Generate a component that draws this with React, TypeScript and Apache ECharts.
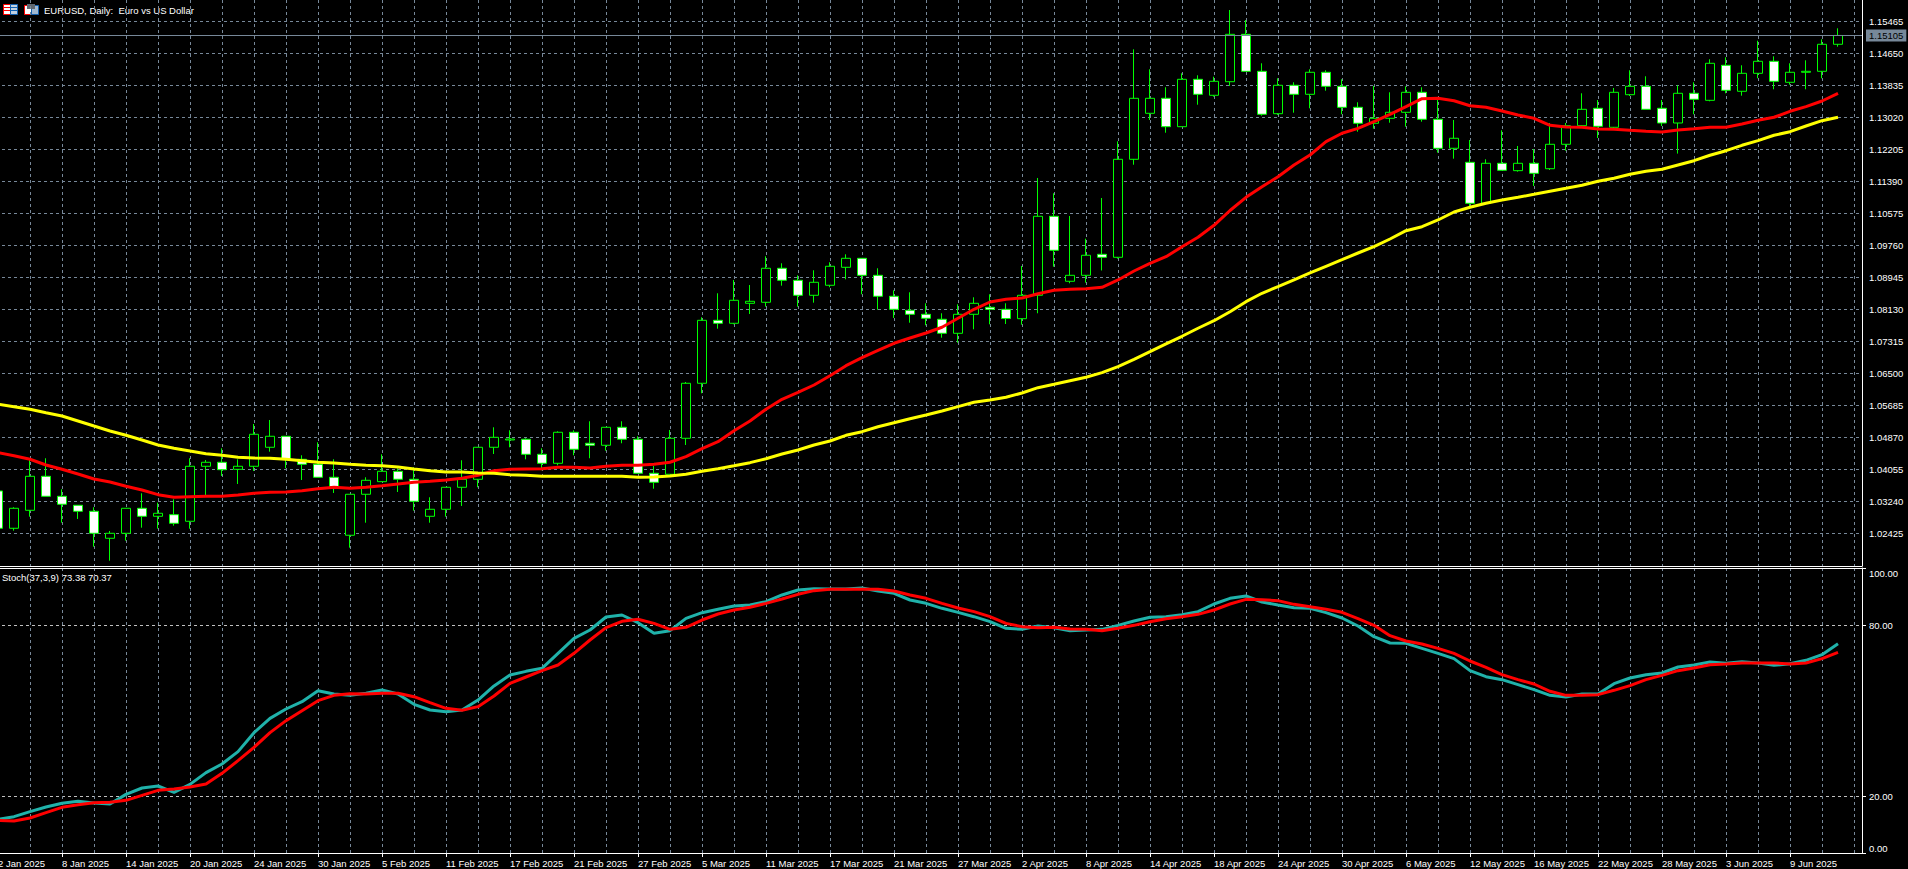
import { useEffect, useRef } from 'react'
import * as echarts from 'echarts'

const dates = [
  '2 Jan 2025', '3 Jan 2025', '6 Jan 2025', '7 Jan 2025', '8 Jan 2025', '9 Jan 2025', '10 Jan 2025', '13 Jan 2025',
  '14 Jan 2025', '15 Jan 2025', '16 Jan 2025', '17 Jan 2025', '20 Jan 2025', '21 Jan 2025', '22 Jan 2025', '23 Jan 2025',
  '24 Jan 2025', '27 Jan 2025', '28 Jan 2025', '29 Jan 2025', '30 Jan 2025', '31 Jan 2025', '3 Feb 2025', '4 Feb 2025',
  '5 Feb 2025', '6 Feb 2025', '7 Feb 2025', '10 Feb 2025', '11 Feb 2025', '12 Feb 2025', '13 Feb 2025', '14 Feb 2025',
  '17 Feb 2025', '18 Feb 2025', '19 Feb 2025', '20 Feb 2025', '21 Feb 2025', '24 Feb 2025', '25 Feb 2025', '26 Feb 2025',
  '27 Feb 2025', '28 Feb 2025', '3 Mar 2025', '4 Mar 2025', '5 Mar 2025', '6 Mar 2025', '7 Mar 2025', '10 Mar 2025',
  '11 Mar 2025', '12 Mar 2025', '13 Mar 2025', '14 Mar 2025', '17 Mar 2025', '18 Mar 2025', '19 Mar 2025', '20 Mar 2025',
  '21 Mar 2025', '24 Mar 2025', '25 Mar 2025', '26 Mar 2025', '27 Mar 2025', '28 Mar 2025', '31 Mar 2025', '1 Apr 2025',
  '2 Apr 2025', '3 Apr 2025', '4 Apr 2025', '7 Apr 2025', '8 Apr 2025', '9 Apr 2025', '10 Apr 2025', '11 Apr 2025',
  '14 Apr 2025', '15 Apr 2025', '16 Apr 2025', '17 Apr 2025', '18 Apr 2025', '21 Apr 2025', '22 Apr 2025', '23 Apr 2025',
  '24 Apr 2025', '25 Apr 2025', '28 Apr 2025', '29 Apr 2025', '30 Apr 2025', '1 May 2025', '2 May 2025', '5 May 2025',
  '6 May 2025', '7 May 2025', '8 May 2025', '9 May 2025', '12 May 2025', '13 May 2025', '14 May 2025', '15 May 2025',
  '16 May 2025', '19 May 2025', '20 May 2025', '21 May 2025', '22 May 2025', '23 May 2025', '26 May 2025', '27 May 2025',
  '28 May 2025', '29 May 2025', '30 May 2025', '2 Jun 2025', '3 Jun 2025', '4 Jun 2025', '5 Jun 2025', '6 Jun 2025',
  '9 Jun 2025', '10 Jun 2025', '11 Jun 2025', '12 Jun 2025', '',
]

const opens = [
  1.03503, 1.02553, 1.03011, 1.03877, 1.03368, 1.03139, 1.02986, 1.02298, 1.02425, 1.03062, 1.02858, 1.02899,
  1.02731, 1.04132, 1.04234, 1.04055, 1.04132, 1.04616, 1.04896, 1.0431, 1.04183, 1.03852, 1.02375, 1.03419,
  1.0374, 1.04004, 1.03801, 1.02858, 1.03037, 1.03597, 1.03801, 1.04616, 1.04802, 1.0482, 1.04437, 1.04208,
  1.04998, 1.04718, 1.04667, 1.05125, 1.0482, 1.03954, 1.03928, 1.04845, 1.06246, 1.0785, 1.07774, 1.08283,
  1.08309, 1.09175, 1.08869, 1.08487, 1.08742, 1.092, 1.09429, 1.08996, 1.08462, 1.08105, 1.08003, 1.07876,
  1.07519, 1.08003, 1.08181, 1.0813, 1.07891, 1.08487, 1.10499, 1.08844, 1.08996, 1.09531, 1.09455, 1.11951,
  1.13122, 1.13504, 1.12781, 1.13988, 1.13581, 1.13927, 1.15134, 1.14192, 1.13112, 1.13836, 1.13606, 1.14167,
  1.1381, 1.13275, 1.12868, 1.12995, 1.13148, 1.13657, 1.1297, 1.12231, 1.11874, 1.1083, 1.11849, 1.11661,
  1.11849, 1.11711, 1.12333, 1.12807, 1.1325, 1.12766, 1.13596, 1.1381, 1.1325, 1.12875, 1.13632, 1.13453,
  1.14345, 1.13683, 1.14141, 1.14447, 1.13912, 1.14167, 1.14192, 1.1488,
]
const closes = [
  1.02553, 1.03062, 1.03877, 1.03368, 1.03164, 1.02986, 1.02425, 1.02425, 1.03062, 1.02858, 1.02935, 1.0268,
  1.04132, 1.04234, 1.04045, 1.04132, 1.04947, 1.04896, 1.0431, 1.04183, 1.03852, 1.03597, 1.03419, 1.03775,
  1.04004, 1.03801, 1.0324, 1.03037, 1.03597, 1.03801, 1.04616, 1.0487, 1.04827, 1.04437, 1.04208, 1.04998,
  1.04565, 1.04667, 1.05125, 1.0482, 1.03954, 1.03724, 1.04845, 1.06246, 1.0785, 1.07774, 1.0836, 1.08334,
  1.09175, 1.08869, 1.08487, 1.08818, 1.09226, 1.09429, 1.08996, 1.08462, 1.0813, 1.08003, 1.07901, 1.07519,
  1.08003, 1.08283, 1.0813, 1.07896, 1.08487, 1.10499, 1.09633, 1.08996, 1.09506, 1.09455, 1.11951, 1.13504,
  1.13504, 1.12781, 1.13988, 1.13606, 1.13937, 1.15134, 1.14192, 1.13097, 1.13836, 1.13606, 1.14167, 1.1381,
  1.13275, 1.12868, 1.12995, 1.13148, 1.13657, 1.1297, 1.12231, 1.12486, 1.1083, 1.11849, 1.11671, 1.11849,
  1.11594, 1.12333, 1.12807, 1.13224, 1.12791, 1.13657, 1.1381, 1.13224, 1.12875, 1.13632, 1.13479, 1.14396,
  1.13708, 1.14141, 1.14447, 1.13937, 1.14167, 1.14192, 1.1488, 1.15105,
]
const lows = [
  1.02466, 1.02492, 1.02848, 1.03368, 1.02695, 1.0279, 1.02084, 1.01728, 1.02237, 1.02568, 1.02543, 1.02619,
  1.02543, 1.03401, 1.03885, 1.03681, 1.04012, 1.04504, 1.04081, 1.03783, 1.03852, 1.03452, 1.02059, 1.02695,
  1.0374, 1.03477, 1.03001, 1.02695, 1.02848, 1.03121, 1.03597, 1.04445, 1.04616, 1.0431, 1.0403, 1.04157,
  1.04412, 1.04336, 1.04529, 1.04718, 1.03954, 1.03561, 1.03928, 1.04674, 1.05991, 1.07636, 1.07748, 1.08011,
  1.08197, 1.08732, 1.08197, 1.08299, 1.08691, 1.08894, 1.08513, 1.0812, 1.07909, 1.07789, 1.07723, 1.07407,
  1.0728, 1.07621, 1.07748, 1.07756, 1.07738, 1.08029, 1.09215, 1.08793, 1.08808, 1.09119, 1.09419, 1.11813,
  1.12952, 1.12628, 1.12781, 1.13341, 1.13545, 1.13818, 1.14192, 1.13061, 1.13079, 1.13138, 1.1325, 1.13698,
  1.13097, 1.12654, 1.1273, 1.12883, 1.12781, 1.12909, 1.12121, 1.11966, 1.10744, 1.10812, 1.1166, 1.11635,
  1.11271, 1.11678, 1.1217, 1.12799, 1.12493, 1.12748, 1.13563, 1.13224, 1.12799, 1.12096, 1.13097, 1.13428,
  1.13632, 1.13571, 1.14014, 1.13734, 1.13851, 1.13734, 1.14014, 1.14819,
]
const highs = [
  1.03612, 1.03088, 1.04336, 1.04336, 1.03546, 1.03139, 1.03088, 1.02484, 1.03062, 1.03444, 1.03205, 1.03291,
  1.04336, 1.04292, 1.0459, 1.0431, 1.05209, 1.05311, 1.04896, 1.04412, 1.04743, 1.0431, 1.03419, 1.03852,
  1.04437, 1.04081, 1.04106, 1.03342, 1.03597, 1.04285, 1.04616, 1.05125, 1.05049, 1.04845, 1.0459, 1.05023,
  1.05049, 1.05278, 1.05125, 1.05278, 1.04898, 1.04139, 1.05056, 1.06279, 1.07927, 1.08538, 1.08877, 1.08749,
  1.0948, 1.09302, 1.08996, 1.09124, 1.09328, 1.09531, 1.09429, 1.09175, 1.08614, 1.08563, 1.08283, 1.08029,
  1.08258, 1.08436, 1.08513, 1.08283, 1.09233, 1.11475, 1.11085, 1.10507, 1.09929, 1.10965, 1.12409, 1.14752,
  1.14243, 1.13785, 1.14141, 1.1409, 1.14055, 1.15753, 1.15499, 1.14396, 1.14014, 1.13912, 1.14243, 1.14218,
  1.13988, 1.13403, 1.13818, 1.13657, 1.1381, 1.13785, 1.13512, 1.12952, 1.12442, 1.11951, 1.12689, 1.1229,
  1.12213, 1.12875, 1.12875, 1.13632, 1.13461, 1.13767, 1.14218, 1.14065, 1.13461, 1.13836, 1.13912, 1.14498,
  1.14549, 1.14345, 1.14971, 1.14574, 1.14396, 1.14472, 1.15007, 1.15287,
]

const fastMa = [
  1.04478, 1.04402, 1.0431, 1.04165, 1.04055, 1.03936, 1.03808, 1.03732, 1.03622, 1.03528, 1.03409, 1.03342,
  1.03358, 1.03368, 1.03368, 1.03401, 1.03444, 1.0347, 1.03477, 1.0351, 1.03561, 1.03597, 1.03572, 1.03597,
  1.03638, 1.03681, 1.03724, 1.0375, 1.03783, 1.03826, 1.03903, 1.0402, 1.04055, 1.04063, 1.04071, 1.04106,
  1.04106, 1.04089, 1.04132, 1.04157, 1.04157, 1.04183, 1.04234, 1.04376, 1.0458, 1.04758, 1.05039, 1.05286,
  1.05584, 1.05838, 1.06016, 1.06202, 1.06439, 1.06694, 1.06898, 1.07086, 1.07265, 1.07399, 1.07527, 1.07672,
  1.07901, 1.0813, 1.08316, 1.08385, 1.08418, 1.08528, 1.08614, 1.0864, 1.08655, 1.08691, 1.08877, 1.09106,
  1.09302, 1.0947, 1.09725, 1.09964, 1.1027, 1.10647, 1.10983, 1.11253, 1.11508, 1.11806, 1.1206, 1.12399,
  1.12613, 1.1274, 1.12909, 1.13097, 1.13291, 1.13494, 1.13504, 1.13443, 1.13316, 1.13275, 1.13181, 1.13079,
  1.12995, 1.12817, 1.12773, 1.12766, 1.12723, 1.12715, 1.12689, 1.12664, 1.12646, 1.12697, 1.1273, 1.12766,
  1.12766, 1.1285, 1.12944, 1.13021, 1.13173, 1.13291, 1.13436, 1.13632,
]
const slowMa = [
  1.05711, 1.0565, 1.05584, 1.05497, 1.05413, 1.05286, 1.05158, 1.05031, 1.04921, 1.04802, 1.04674, 1.0459,
  1.04522, 1.04453, 1.04412, 1.04361, 1.04343, 1.04336, 1.0431, 1.04274, 1.04234, 1.04216, 1.04183, 1.04157,
  1.04147, 1.04114, 1.04063, 1.0402, 1.03987, 1.03987, 1.03961, 1.03954, 1.03918, 1.03903, 1.03877, 1.03877,
  1.03877, 1.03877, 1.03877, 1.03877, 1.03852, 1.03859, 1.03885, 1.03928, 1.04004, 1.04071, 1.04147, 1.04224,
  1.04325, 1.04445, 1.04547, 1.04674, 1.04776, 1.04921, 1.05013, 1.0514, 1.05242, 1.05344, 1.05438, 1.0554,
  1.0565, 1.05762, 1.0582, 1.05889, 1.05999, 1.06134, 1.0622, 1.06312, 1.06399, 1.06516, 1.06669, 1.06857,
  1.07051, 1.07247, 1.07443, 1.07647, 1.0784, 1.08069, 1.08324, 1.08538, 1.08706, 1.08877, 1.09055, 1.09226,
  1.09394, 1.09564, 1.09725, 1.09921, 1.10132, 1.10234, 1.10405, 1.10609, 1.10728, 1.1083, 1.10914, 1.10983,
  1.11059, 1.11136, 1.11212, 1.11289, 1.11391, 1.11467, 1.11569, 1.11645, 1.11696, 1.11806, 1.11915, 1.12053,
  1.1217, 1.12307, 1.12425, 1.12562, 1.12654, 1.12799, 1.12934, 1.13021,
]

const stochMain = [
  11.81, 12.75, 14.5, 16.14, 17.43, 18.13, 17.54, 17.19, 20.58, 22.81, 23.51, 21.29,
  24.09, 28.19, 31.23, 35.56, 42.22, 47.25, 50.53, 53.1, 56.96, 55.79, 55.32, 56.02,
  57.19, 55.79, 52.16, 50.18, 49.59, 50.18, 53.68, 58.6, 62.46, 63.74, 64.8, 70.06,
  75.32, 78.25, 82.81, 83.51, 80.82, 77.08, 78.01, 82.34, 84.33, 85.5, 86.67, 87.02,
  88.19, 90.53, 92.28, 92.75, 92.63, 92.63, 92.98, 91.93, 91.11, 88.77, 87.6, 85.85,
  84.44, 82.92, 81.17, 78.83, 78.48, 79.65, 79.06, 78.01, 78.25, 78.48, 79.88, 81.4,
  82.69, 82.92, 83.63, 84.68, 87.37, 89.36, 90.18, 88.07, 87.02, 86.08, 85.85, 84.33,
  82.46, 79.65, 75.91, 73.68, 73.57, 71.81, 70.06, 68.19, 63.98, 61.87, 60.82, 59.06,
  57.31, 55.32, 54.74, 55.79, 55.79, 59.42, 61.4, 62.57, 63.16, 65.26, 65.96, 67.02,
  66.55, 67.13, 66.67, 65.85, 66.43, 67.6, 69.59, 73.38,
]
const stochSignal = [
  11.46, 11.23, 12.28, 14.15, 16.02, 16.96, 17.66, 17.78, 18.48, 20.23, 21.99, 22.46,
  23.16, 24.21, 27.95, 32.4, 37.08, 42.22, 46.43, 49.94, 53.45, 55.32, 55.91, 55.79,
  56.02, 56.02, 54.85, 52.75, 50.76, 50.06, 51.35, 55.09, 59.53, 61.75, 63.98, 65.96,
  70.06, 74.74, 79.06, 81.29, 81.99, 80.58, 78.48, 79.18, 81.75, 83.86, 85.26, 86.2,
  87.6, 89.12, 90.76, 92.05, 92.51, 92.51, 92.51, 92.51, 91.93, 90.53, 89.36, 87.6,
  85.96, 84.68, 82.92, 80.58, 79.42, 79.06, 79.18, 78.6, 78.48, 78.01, 78.83, 79.88,
  81.17, 82.22, 82.92, 83.74, 85.26, 87.37, 89.01, 88.89, 88.54, 87.25, 86.43, 85.5,
  84.44, 82.22, 79.88, 76.26, 74.39, 73.33, 71.81, 70.06, 67.37, 65.15, 62.57, 60.82,
  59.3, 56.73, 55.32, 55.32, 55.56, 57.08, 58.71, 60.82, 62.34, 63.98, 64.91, 66.08,
  66.32, 66.67, 66.67, 66.67, 66.32, 66.67, 68.19, 70.37,
]

const priceTicks = [
  1.02425, 1.0324, 1.04055, 1.0487, 1.05685, 1.065, 1.07315, 1.0813, 1.08945, 1.0976, 1.10575, 1.1139, 1.12205,
  1.1302, 1.13835, 1.1465, 1.15465,
]
const stochTicks = [0, 20, 80, 100]
const lastPrice = 1.15105

const FONT = '"Liberation Sans", Arial, sans-serif'
const GRID = '#778899'
const GREEN = '#00ff00'

const candles = opens.map((o, i) => [o, closes[i], lows[i], highs[i]])

const lineSeries = (name: string, data: number[], color: string, axis: number) => ({
  name,
  type: 'line',
  xAxisIndex: axis,
  yAxisIndex: axis,
  data,
  showSymbol: false,
  smooth: false,
  clip: false,
  lineStyle: { color, width: 3 },
  silent: true,
})

const vLines = {
  show: true,
  interval: (i: number) => i % 2 === 0,
  alignWithLabel: true,
  lineStyle: { color: GRID, type: [3, 3], width: 1 },
}

const bidLine = {
  silent: true,
  symbol: 'none',
  animation: false,
  precision: 5,
  lineStyle: { color: GRID, type: 'solid', width: 1 },
  label: {
    show: true,
    position: 'end',
    distance: 4,
    formatter: () => lastPrice.toFixed(5),
    color: '#000',
    backgroundColor: GRID,
    fontSize: 9.5,
    fontFamily: FONT,
    padding: [1, 3, 1, 3],
  },
  data: [{ yAxis: lastPrice }],
}

export default function App() {
  const chartRef = useRef<HTMLDivElement>(null)

  useEffect(() => {
    if (!chartRef.current) return
    document.body.style.margin = '0'
    document.body.style.background = '#000'
    const chart = echarts.init(chartRef.current, null, { renderer: 'svg' })

    chart.setOption({
      animation: false,
      backgroundColor: '#000',
      textStyle: { fontFamily: FONT },
      grid: [
        { left: -10, top: 0, width: 1872, height: 566, outerBoundsMode: 'none' },
        { left: -10, top: 568, width: 1872, height: 285, outerBoundsMode: 'none' },
      ],
      xAxis: [
        {
          type: 'category',
          gridIndex: 0,
          data: dates,
          axisLine: { show: true, onZero: false, lineStyle: { color: '#fff' } },
          axisTick: { show: false },
          axisLabel: { show: false },
          splitLine: vLines,
        },
        {
          type: 'category',
          gridIndex: 1,
          data: dates,
          axisLine: { show: true, onZero: false, lineStyle: { color: '#fff' } },
          axisTick: {
            show: true,
            alignWithLabel: true,
            interval: (i: number) => i % 4 === 0 && i < 116,
            length: 4,
            lineStyle: { color: '#fff' },
          },
          axisLabel: {
            show: true,
            interval: 3,
            align: 'left',
            margin: 5,
            color: '#fff',
            fontSize: 9.5,
            fontFamily: FONT,
          },
          splitLine: vLines,
        },
        {
          // top edge of the indicator pane
          type: 'category',
          gridIndex: 1,
          position: 'top',
          data: dates,
          axisLine: { show: true, onZero: false, lineStyle: { color: '#fff' } },
          axisTick: { show: false },
          axisLabel: { show: false },
        },
      ],
      yAxis: [
        {
          type: 'value',
          gridIndex: 0,
          position: 'right',
          min: 1.01592,
          max: 1.16008,
          axisLine: { show: true, lineStyle: { color: '#fff' } },
          axisTick: { show: false, customValues: priceTicks },
          axisLabel: {
            customValues: priceTicks,
            margin: 7,
            color: '#fff',
            fontSize: 9.5,
            fontFamily: FONT,
            formatter: (v: number) => v.toFixed(5),
          },
          splitLine: { show: true, lineStyle: { color: GRID, type: [3, 3], width: 1 } },
        },
        {
          type: 'value',
          gridIndex: 1,
          position: 'right',
          min: 0,
          max: 100,
          axisLine: { show: true, lineStyle: { color: '#fff' } },
          axisTick: { show: true, customValues: stochTicks, length: 4, lineStyle: { color: '#fff' } },
          axisLabel: {
            customValues: stochTicks,
            margin: 7,
            color: '#fff',
            fontSize: 9.5,
            fontFamily: FONT,
            verticalAlignMinLabel: 'bottom',
            verticalAlignMaxLabel: 'top',
            formatter: (v: number) => v.toFixed(2),
          },
          splitLine: {
            show: true,
            showMinLine: false,
            showMaxLine: false,
            lineStyle: { color: '#c0c0c0', type: [3, 3], width: 1 },
          },
        },
      ],
      series: [
        {
          name: 'EURUSD',
          type: 'candlestick',
          xAxisIndex: 0,
          yAxisIndex: 0,
          data: candles,
          barWidth: 10,
          silent: true,
          itemStyle: {
            color: '#000',
            color0: '#fff',
            borderColor: GREEN,
            borderColor0: GREEN,
            borderColorDoji: GREEN,
            borderWidth: 1,
          },
        },
        lineSeries('MA fast', fastMa, '#ff0000', 0),
        { ...lineSeries('MA slow', slowMa, '#ffff00', 0), markLine: bidLine },
        lineSeries('Stoch main', stochMain, '#20b2aa', 1),
        lineSeries('Stoch signal', stochSignal, '#ff0000', 1),
      ],
      graphic: [
        { type: 'text', left: 44, top: 5, style: { text: 'EURUSD, Daily:  Euro vs US Dollar', fill: '#fff', font: `9.5px ${FONT}` } },
        { type: 'text', left: 2, top: 572, style: { text: 'Stoch(37,3,9) 73.38 70.37', fill: '#fff', font: `9.5px ${FONT}` } },
        // window icons in the corner
        { type: 'rect', shape: { x: 3.5, y: 4.5, width: 7, height: 10 }, style: { fill: '#fff', stroke: '#ff0000' } },
        { type: 'rect', shape: { x: 10.5, y: 4.5, width: 7, height: 10 }, style: { fill: '#c0d0e0', stroke: '#1060b0' } },
        { type: 'rect', shape: { x: 4, y: 7, width: 6, height: 1 }, style: { fill: '#ff0000' } },
        { type: 'rect', shape: { x: 4, y: 10, width: 6, height: 1 }, style: { fill: '#ff0000' } },
        { type: 'rect', shape: { x: 11, y: 7, width: 6, height: 1 }, style: { fill: '#1060b0' } },
        { type: 'rect', shape: { x: 11, y: 10, width: 6, height: 1 }, style: { fill: '#1060b0' } },
        { type: 'rect', shape: { x: 24.5, y: 5.5, width: 7, height: 9 }, style: { fill: '#fff', stroke: '#ff0000' } },
        { type: 'rect', shape: { x: 31.5, y: 5.5, width: 7, height: 9 }, style: { fill: '#a0b8d0', stroke: '#1060b0' } },
        { type: 'rect', shape: { x: 27, y: 4, width: 8, height: 5 }, style: { fill: '#606870' } },
      ],
    })

    return () => {
      chart.dispose()
    }
  }, [])

  return <div ref={chartRef} style={{ position: 'fixed', left: 0, top: 0, width: 1908, height: 869 }} />
}
